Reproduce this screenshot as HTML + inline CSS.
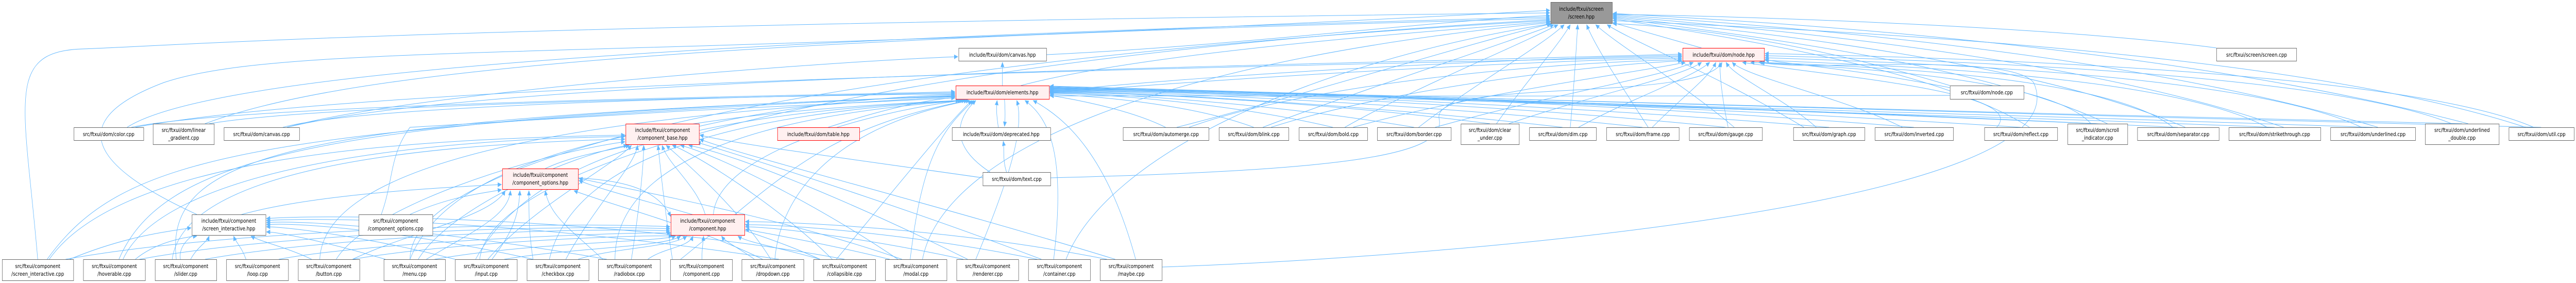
<!DOCTYPE html>
<html><head><meta charset="utf-8"><style>
html,body{margin:0;padding:0;background:#fff;width:100%;height:100%;overflow:hidden;}
svg{display:block;position:absolute;left:0;top:0;width:100%;height:100%;}
text{font-family:"DejaVu Sans","Liberation Sans",sans-serif;font-size:11px;fill:#000;}
</style></head><body>
<svg viewBox="0 0 6283 549" preserveAspectRatio="none" xmlns="http://www.w3.org/2000/svg">
<defs>
<marker id="a" markerWidth="10" markerHeight="9" refX="9" refY="4.5" orient="auto" markerUnits="userSpaceOnUse"><path d="M0,0 L10,4.5 L0,9 z" fill="#63b8ff"/></marker>
</defs>
<g fill="none" stroke="#63b8ff" stroke-width="1" marker-end="url(#a)">
<path d="M2552,106 C3000,90 3500,40 3780,30"/>
<path d="M2445,166 L2445,121"/>
<path d="M2490,166 C2800,100 3500,60 3782,42"/>
<path d="M2559,178 C3000,140 3800,110 4102,108"/>
<path d="M2559,181 C3000,150 3800,115 4102,113"/>
<path d="M4150,93 C4050,70 3980,55 3934,44"/>
<path d="M2435,247 C2430,220 2430,210 2432,195"/>
<path d="M2450,193 C2452,215 2452,230 2450,245"/>
<path d="M2455,334 C2445,310 2450,290 2447,274"/>
<path d="M2415,334 C2330,290 2320,240 2380,195"/>
<path d="M2397,345 C2000,300 1800,280 1707,262"/>
<path d="M2562,345 C3300,330 3530,300 3510,230 C3490,150 4150,200 4200,121"/>
<path d="M2020,247 C2200,200 2300,190 2329,190"/>
<path d="M1705,245 C1900,210 2100,190 2329,183"/>
<path d="M1330,327 C1400,300 1500,290 1535,282"/>
<path d="M1720,416 C1700,360 1630,320 1615,282"/>
<path d="M1740,416 C1750,300 2100,220 2345,195"/>
<path d="M1410,345 C1500,350 1600,360 1636,420"/>
<path d="M480,416 C300,350 100,250 400,160 C700,80 1500,120 3780,20"/>
<path d="M5406,93 C5000,50 4200,30 3934,28"/>
<path d="M6160,247 C5600,100 4500,60 3934,40"/>
<path d="M4756,170 C4500,130 4350,125 4305,115"/>
<path d="M4756,166 C4400,80 4100,50 3934,46"/>
<path d="M2834,518 C3500,500 5100,400 4960,160 C4900,100 4400,140 4295,121"/>
<path d="M92,503 C60,200 10,100 200,95 C400,90 1000,50 3780,25"/>
<path d="M310,247 C500,150 1500,80 3780,33"/>
<path d="M500,240 C800,150 1500,80 3780,36"/>
<path d="M700,247 C1000,180 2000,120 2336,110"/>
<path d="M690,247 C900,200 2000,185 2329,180"/>
<path d="M320,247 C600,200 2000,185 2329,178"/>
<path d="M510,240 C800,200 2000,185 2329,182"/>
<path d="M700,247 C1200,150 3000,130 4102,105"/>
<path d="M330,247 C900,160 3000,130 4102,110"/>
<path d="M115,503 C300,300 600,250 2329,185"/>
<path d="M290,503 C400,300 800,230 2329,186"/>
<path d="M430,503 C400,300 700,230 2329,187"/>
<path d="M780,503 C790,300 1500,220 2329,188"/>
<path d="M1000,503 C1100,300 1600,220 2340,195"/>
<path d="M1160,503 C1300,300 1700,220 2345,195"/>
<path d="M1340,503 C1400,300 1800,220 2350,195"/>
<path d="M1500,503 C1500,300 1900,220 2355,195"/>
<path d="M1660,503 C1900,350 2000,250 2360,195"/>
<path d="M1890,503 C1900,400 2000,250 2365,195"/>
<path d="M2040,503 C2200,350 2300,250 2370,195"/>
<path d="M2220,503 C2250,300 2300,250 2375,195"/>
<path d="M2380,503 C2460,350 2500,250 2480,195"/>
<path d="M2570,503 C2600,300 2560,230 2500,195"/>
<path d="M2770,503 C2700,300 2600,230 2520,195"/>
<path d="M120,503 C300,300 1000,270 1524,262"/>
<path d="M300,503 C400,330 1000,270 1524,265"/>
<path d="M420,503 C450,330 1000,280 1524,270"/>
<path d="M820,503 C900,400 1300,300 1524,275"/>
<path d="M1020,503 C1100,400 1400,300 1530,282"/>
<path d="M1190,503 C1300,400 1500,320 1540,282"/>
<path d="M1380,503 C1450,400 1550,320 1555,282"/>
<path d="M1540,503 C1560,400 1570,320 1570,282"/>
<path d="M1640,503 C1620,400 1610,320 1605,282"/>
<path d="M1880,503 C1800,400 1650,300 1625,282"/>
<path d="M2030,503 C1900,400 1700,300 1640,282"/>
<path d="M2190,503 C2000,400 1750,300 1660,282"/>
<path d="M2360,503 C2100,400 1800,300 1680,282"/>
<path d="M2540,503 C2200,400 1800,300 1700,276"/>
<path d="M2720,503 C2300,400 1800,300 1707,270"/>
<path d="M160,503 C600,440 1400,430 1634,440"/>
<path d="M340,503 C700,450 1400,435 1634,444"/>
<path d="M500,503 C800,460 1400,440 1634,448"/>
<path d="M680,503 C900,470 1500,450 1636,452"/>
<path d="M860,503 C1100,470 1550,455 1640,458"/>
<path d="M1060,503 C1300,470 1600,470 1648,458"/>
<path d="M1230,503 C1400,480 1620,480 1660,458"/>
<path d="M1410,503 C1500,480 1640,480 1675,458"/>
<path d="M1580,503 C1620,480 1680,480 1690,458"/>
<path d="M1712,503 C1712,480 1715,470 1716,458"/>
<path d="M1840,503 C1800,480 1770,470 1760,458"/>
<path d="M2000,503 C1900,480 1820,470 1800,458"/>
<path d="M2170,503 C2000,470 1850,450 1818,445"/>
<path d="M2350,503 C2100,460 1880,440 1818,440"/>
<path d="M2530,503 C2200,450 1900,435 1818,436"/>
<path d="M2700,503 C2300,440 1900,430 1818,430"/>
<path d="M170,503 C300,460 400,450 466,442"/>
<path d="M330,503 C380,470 450,460 480,458"/>
<path d="M465,503 C480,480 505,470 510,458"/>
<path d="M600,503 C590,480 575,470 570,458"/>
<path d="M760,503 C700,480 640,470 612,458"/>
<path d="M940,503 C800,470 680,450 650,450"/>
<path d="M1110,503 C900,460 700,440 650,440"/>
<path d="M1300,503 C1000,450 720,430 650,436"/>
<path d="M1480,503 C1100,450 740,425 650,432"/>
<path d="M1900,503 C1300,430 800,420 650,428"/>
<path d="M2060,503 C1500,420 800,415 650,424"/>
<path d="M440,503 C420,400 900,370 1223,358"/>
<path d="M1000,416 C1100,380 1180,375 1223,368"/>
<path d="M860,503 C1000,450 1200,420 1232,370"/>
<path d="M1040,503 C1150,450 1240,420 1245,370"/>
<path d="M1200,503 C1250,450 1265,420 1268,370"/>
<path d="M1300,503 C1290,450 1290,420 1290,370"/>
<path d="M1470,503 C1400,450 1340,420 1330,370"/>
<path d="M1860,503 C1700,440 1500,400 1400,370"/>
<path d="M2000,503 C1800,430 1500,380 1412,350"/>
<path d="M2200,503 C1900,420 1550,370 1412,346"/>
<path d="M930,416 C960,350 950,300 1000,247 C1300,230 2000,200 2329,190"/>
<path d="M2843,247 C2750,210 2600,190 2561,185"/>
<path d="M3058,247 C2900,200 2650,185 2561,183"/>
<path d="M3251,247 C3000,200 2700,182 2561,181"/>
<path d="M3449,247 C3100,200 2700,180 2561,180"/>
<path d="M3634,240 C3200,195 2700,178 2561,179"/>
<path d="M3811,247 C3300,200 2700,176 2561,178"/>
<path d="M4006,247 C3400,195 2700,175 2561,177"/>
<path d="M4209,247 C3500,190 2700,174 2561,176"/>
<path d="M4461,247 C3600,190 2700,173 2561,175"/>
<path d="M4668,247 C3700,185 2700,172 2561,174"/>
<path d="M4929,247 C3800,190 2700,171 2561,173"/>
<path d="M5116,240 C3900,195 2700,170 2561,172"/>
<path d="M5312,247 C4000,200 2700,170 2561,171"/>
<path d="M5548,247 C4200,205 2700,169 2561,170"/>
<path d="M5787,247 C4400,210 2700,169 2561,169"/>
<path d="M6005,240 C4600,215 2700,168 2561,168"/>
<path d="M6198,247 C4800,220 2700,168 2561,167"/>
<path d="M4800,185 C4000,190 2700,180 2561,186"/>
<path d="M2900,247 C3200,160 3800,120 4102,116"/>
<path d="M3100,247 C3400,170 3900,125 4102,118"/>
<path d="M3300,247 C3600,180 4000,140 4110,121"/>
<path d="M3500,247 C3800,180 4050,150 4130,121"/>
<path d="M3680,240 C3900,180 4100,150 4150,121"/>
<path d="M3850,247 C3980,190 4130,150 4170,121"/>
<path d="M4030,247 C4100,190 4170,150 4185,121"/>
<path d="M4215,247 C4200,190 4195,150 4195,121"/>
<path d="M4430,247 C4350,190 4230,150 4210,121"/>
<path d="M4640,247 C4500,190 4260,150 4225,121"/>
<path d="M4870,247 C4950,180 4500,150 4250,121"/>
<path d="M5100,240 C5000,150 4500,130 4270,121"/>
<path d="M5300,247 C5150,150 4600,130 4290,121"/>
<path d="M5530,247 C5300,150 4700,130 4305,117"/>
<path d="M5760,247 C5500,150 4800,125 4305,112"/>
<path d="M5980,240 C5700,150 4900,120 4305,108"/>
<path d="M6180,247 C5900,150 5000,115 4305,104"/>
<path d="M2870,247 C3200,180 3600,80 3784,46"/>
<path d="M3080,247 C3300,180 3650,90 3790,48"/>
<path d="M3280,247 C3450,170 3700,90 3800,48"/>
<path d="M3460,247 C3600,160 3760,90 3815,48"/>
<path d="M3650,240 C3720,160 3800,90 3830,48"/>
<path d="M3830,247 C3840,160 3845,90 3848,48"/>
<path d="M4020,247 C3950,160 3890,90 3870,48"/>
<path d="M4230,247 C4100,160 3950,90 3892,48"/>
<path d="M4400,247 C4200,150 3980,80 3920,48"/>
<path d="M4950,247 C4700,120 4100,60 3934,36"/>
<path d="M5140,240 C4800,110 4100,55 3934,34"/>
<path d="M5330,247 C4900,100 4100,50 3934,32"/>
<path d="M5570,247 C5000,90 4100,45 3934,30"/>
<path d="M5800,247 C5100,80 4100,40 3934,28"/>
<path d="M6020,240 C5200,70 4100,35 3934,26"/>
<path d="M1000,503 C1000,300 2000,120 3780,40"/>
<path d="M1170,503 C1200,300 2200,110 3780,38"/>
<path d="M2250,503 C2300,300 2800,120 3780,44"/>
<path d="M2600,503 C2700,300 3200,120 3782,46"/>
</g>

<g stroke="#666" stroke-width="1" fill="#fff">
<rect x="180.5" y="247.5" width="170" height="25"/>
<rect x="373.5" y="240.5" width="149" height="40"/>
<rect x="546.5" y="247.5" width="184" height="25"/>
<rect x="1526.5" y="240.5" width="179" height="40" fill="#fff0f0" stroke="#ff0000"/>
<rect x="1896.5" y="247.5" width="200" height="25" fill="#fff0f0" stroke="#ff0000"/>
<rect x="2322.5" y="247.5" width="240" height="25"/>
<rect x="2739.5" y="247.5" width="209" height="25"/>
<rect x="2973.5" y="247.5" width="170" height="25"/>
<rect x="3168.5" y="247.5" width="167" height="25"/>
<rect x="3359.5" y="247.5" width="180" height="25"/>
<rect x="3563.5" y="240.5" width="142" height="40"/>
<rect x="3730.5" y="247.5" width="163" height="25"/>
<rect x="3918.5" y="247.5" width="177" height="25"/>
<rect x="4120.5" y="247.5" width="178" height="25"/>
<rect x="4374.5" y="247.5" width="174" height="25"/>
<rect x="4573.5" y="247.5" width="191" height="25"/>
<rect x="4840.5" y="247.5" width="178" height="25"/>
<rect x="5043.5" y="240.5" width="146" height="40"/>
<rect x="5213.5" y="247.5" width="199" height="25"/>
<rect x="5436.5" y="247.5" width="224" height="25"/>
<rect x="5684.5" y="247.5" width="207" height="25"/>
<rect x="5915.5" y="240.5" width="180" height="40"/>
<rect x="6119.5" y="247.5" width="159" height="25"/>
<rect x="3782.5" y="4.5" width="150" height="41" fill="#999"/>
<rect x="2338.5" y="93.5" width="214" height="25"/>
<rect x="4104.5" y="93.5" width="199" height="25" fill="#fff0f0" stroke="#ff0000"/>
<rect x="5406.5" y="93.5" width="195" height="25"/>
<rect x="2331.5" y="166.5" width="228" height="26" fill="#fff0f0" stroke="#ff0000"/>
<rect x="4756.5" y="166.5" width="180" height="26"/>
<rect x="2397.5" y="334.5" width="165" height="26"/>
<rect x="1225.5" y="327.5" width="185" height="40" fill="#fff0f0" stroke="#ff0000"/>
<rect x="468.5" y="416.5" width="180" height="40"/>
<rect x="875.5" y="416.5" width="180" height="40"/>
<rect x="1636.5" y="416.5" width="180" height="40" fill="#fff0f0" stroke="#ff0000"/>
<rect x="5.5" y="503.5" width="174" height="41"/>
<rect x="203.5" y="503.5" width="151" height="41"/>
<rect x="378.5" y="503.5" width="150" height="41"/>
<rect x="552.5" y="503.5" width="151" height="41"/>
<rect x="727.5" y="503.5" width="150" height="41"/>
<rect x="936.5" y="503.5" width="150" height="41"/>
<rect x="1110.5" y="503.5" width="151" height="41"/>
<rect x="1285.5" y="503.5" width="151" height="41"/>
<rect x="1459.5" y="503.5" width="151" height="41"/>
<rect x="1635.5" y="503.5" width="151" height="41"/>
<rect x="1809.5" y="503.5" width="151" height="41"/>
<rect x="1984.5" y="503.5" width="151" height="41"/>
<rect x="2159.5" y="503.5" width="150" height="41"/>
<rect x="2333.5" y="503.5" width="151" height="41"/>
<rect x="2508.5" y="503.5" width="151" height="41"/>
<rect x="2683.5" y="503.5" width="151" height="41"/>
</g>

<g text-anchor="middle">
<text x="265" y="264">src/ftxui/dom/color.cpp</text>
<text x="448" y="256">src/ftxui/dom/linear</text><text x="448" y="271">_gradient.cpp</text>
<text x="638" y="264">src/ftxui/dom/canvas.cpp</text>
<text x="1616" y="256">include/ftxui/component</text><text x="1616" y="271">/component_base.hpp</text>
<text x="1996" y="264">include/ftxui/dom/table.hpp</text>
<text x="2442" y="264">include/ftxui/dom/deprecated.hpp</text>
<text x="2844" y="264">src/ftxui/dom/automerge.cpp</text>
<text x="3058" y="264">src/ftxui/dom/blink.cpp</text>
<text x="3252" y="264">src/ftxui/dom/bold.cpp</text>
<text x="3449" y="264">src/ftxui/dom/border.cpp</text>
<text x="3634" y="256">src/ftxui/dom/clear</text><text x="3634" y="271">_under.cpp</text>
<text x="3812" y="264">src/ftxui/dom/dim.cpp</text>
<text x="4007" y="264">src/ftxui/dom/frame.cpp</text>
<text x="4209" y="264">src/ftxui/dom/gauge.cpp</text>
<text x="4461" y="264">src/ftxui/dom/graph.cpp</text>
<text x="4669" y="264">src/ftxui/dom/inverted.cpp</text>
<text x="4929" y="264">src/ftxui/dom/reflect.cpp</text>
<text x="5116" y="256">src/ftxui/dom/scroll</text><text x="5116" y="271">_indicator.cpp</text>
<text x="5313" y="264">src/ftxui/dom/separator.cpp</text>
<text x="5548" y="264">src/ftxui/dom/strikethrough.cpp</text>
<text x="5788" y="264">src/ftxui/dom/underlined.cpp</text>
<text x="6005" y="256">src/ftxui/dom/underlined</text><text x="6005" y="271">_double.cpp</text>
<text x="6199" y="264">src/ftxui/dom/util.cpp</text>
<text x="3857" y="21">include/ftxui/screen</text><text x="3857" y="36">/screen.hpp</text>
<text x="2445" y="110">include/ftxui/dom/canvas.hpp</text>
<text x="4204" y="110">include/ftxui/dom/node.hpp</text>
<text x="5504" y="110">src/ftxui/screen/screen.cpp</text>
<text x="2445" y="183">include/ftxui/dom/elements.hpp</text>
<text x="4846" y="183">src/ftxui/dom/node.cpp</text>
<text x="2480" y="351">src/ftxui/dom/text.cpp</text>
<text x="1318" y="343">include/ftxui/component</text><text x="1318" y="358">/component_options.hpp</text>
<text x="558" y="432">include/ftxui/component</text><text x="558" y="447">/screen_interactive.hpp</text>
<text x="965" y="432">src/ftxui/component</text><text x="965" y="447">/component_options.cpp</text>
<text x="1726" y="432">include/ftxui/component</text><text x="1726" y="447">/component.hpp</text>
<text x="92" y="520">src/ftxui/component</text><text x="92" y="535">/screen_interactive.cpp</text>
<text x="279" y="520">src/ftxui/component</text><text x="279" y="535">/hoverable.cpp</text>
<text x="453" y="520">src/ftxui/component</text><text x="453" y="535">/slider.cpp</text>
<text x="628" y="520">src/ftxui/component</text><text x="628" y="535">/loop.cpp</text>
<text x="802" y="520">src/ftxui/component</text><text x="802" y="535">/button.cpp</text>
<text x="1011" y="520">src/ftxui/component</text><text x="1011" y="535">/menu.cpp</text>
<text x="1186" y="520">src/ftxui/component</text><text x="1186" y="535">/input.cpp</text>
<text x="1361" y="520">src/ftxui/component</text><text x="1361" y="535">/checkbox.cpp</text>
<text x="1535" y="520">src/ftxui/component</text><text x="1535" y="535">/radiobox.cpp</text>
<text x="1711" y="520">src/ftxui/component</text><text x="1711" y="535">/component.cpp</text>
<text x="1885" y="520">src/ftxui/component</text><text x="1885" y="535">/dropdown.cpp</text>
<text x="2060" y="520">src/ftxui/component</text><text x="2060" y="535">/collapsible.cpp</text>
<text x="2234" y="520">src/ftxui/component</text><text x="2234" y="535">/modal.cpp</text>
<text x="2409" y="520">src/ftxui/component</text><text x="2409" y="535">/renderer.cpp</text>
<text x="2584" y="520">src/ftxui/component</text><text x="2584" y="535">/container.cpp</text>
<text x="2759" y="520">src/ftxui/component</text><text x="2759" y="535">/maybe.cpp</text>
</g>
</svg>
</body></html>
